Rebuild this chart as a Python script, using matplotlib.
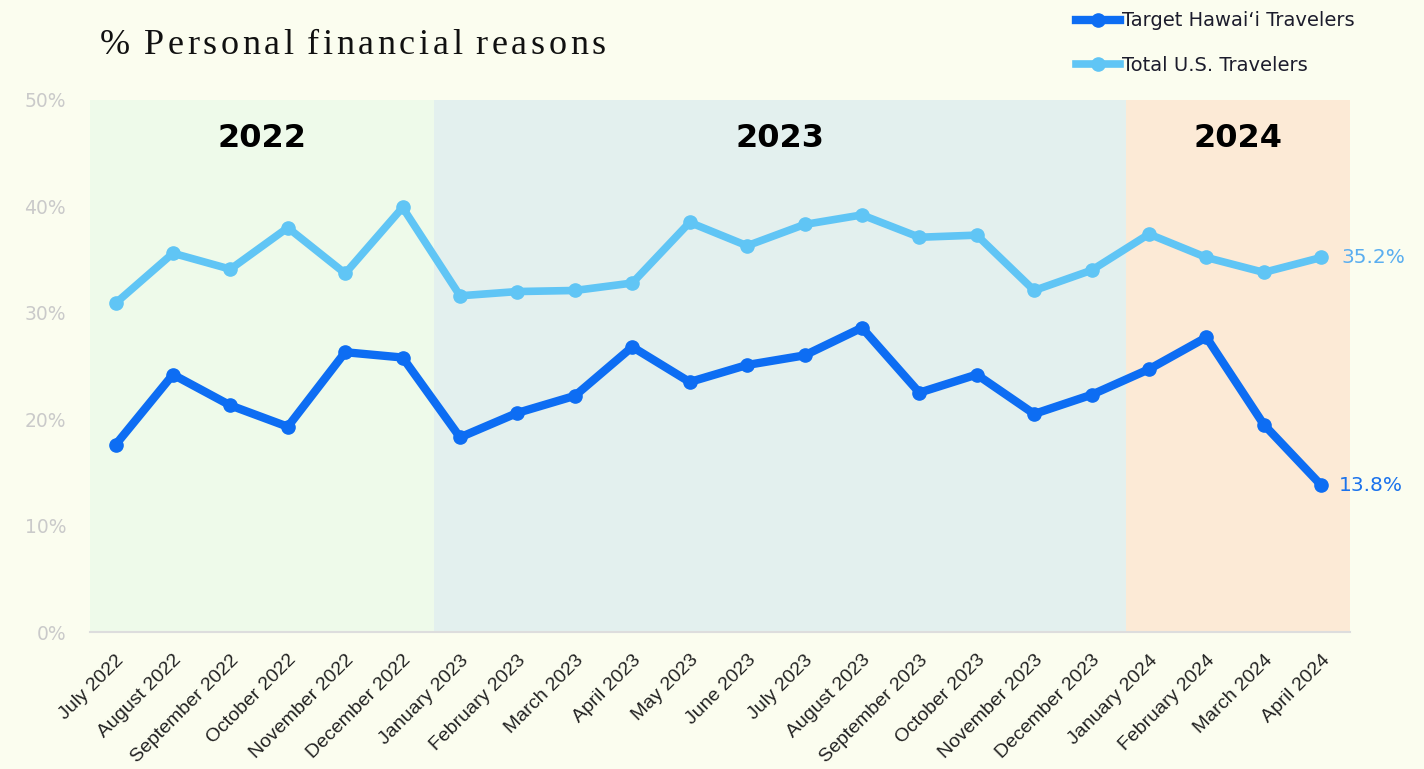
import numpy as np
import matplotlib.pyplot as plt

months = ["July 2022", "August 2022", "September 2022", "October 2022",
          "November 2022", "December 2022", "January 2023", "February 2023",
          "March 2023", "April 2023", "May 2023", "June 2023", "July 2023",
          "August 2023", "September 2023", "October 2023", "November 2023",
          "December 2023", "January 2024", "February 2024", "March 2024",
          "April 2024"]
hawaii = [17.6, 24.2, 21.3, 19.3, 26.3, 25.8, 18.3, 20.6, 22.2, 26.8, 23.5,
          25.1, 26.0, 28.6, 22.5, 24.2, 20.5, 22.3, 24.7, 27.7, 19.5, 13.8]
total_us = [30.9, 35.6, 34.1, 38.0, 33.7, 39.9, 31.6, 32.0, 32.1, 32.8, 38.5,
            36.3, 38.3, 39.2, 37.1, 37.3, 32.1, 34.0, 37.4, 35.2, 33.8, 35.2]
years = ["2022", "2023", "2024"]
year_spans = [(-0.45, 5.55), (5.55, 17.6), (17.6, 21.5)]

dark = "#0d6df3"
light = "#60c5f5"
bg = "#fbfdef"

fig = plt.figure(figsize=(14.24, 7.69), dpi=100, facecolor=bg)
ax = fig.add_axes([0.063, 0.178, 0.885, 0.692])
ax.set_facecolor(bg)

x = np.arange(len(months))

# shaded year bands
band_colors = ["#eefaea", "#e3f0ee", "#fcead6"]
for (a, b), c, yr in zip(year_spans, band_colors, years):
    ax.axvspan(a, b, color=c, zorder=0, lw=0)
    ax.text((a + b) / 2, 46.4, yr, ha="center", va="center", fontsize=23,
            fontweight="bold", color="black", family="DejaVu Sans")

ax.plot(x, total_us, color=light, lw=5.5, marker="o", ms=9.5,
        solid_joinstyle="round", label="Total U.S. Travelers", zorder=3)
ax.plot(x, hawaii, color=dark, lw=6, marker="o", ms=9.5,
        solid_joinstyle="round", label="Target Hawai\u2018i Travelers", zorder=4)

ax.text(x[-1] + 0.35, total_us[-1], f"{total_us[-1]}%", color="#5aaef0",
        fontsize=14.5, va="center", ha="left")
ax.text(x[-1] + 0.3, hawaii[-1], f"{hawaii[-1]}%", color="#1a72ec",
        fontsize=14.5, va="center", ha="left")

ax.set_xlim(-0.45, 21.5)
ax.set_ylim(0, 50)
ax.set_yticks(range(0, 51, 10))
ax.set_yticklabels([f"{v}%" for v in range(0, 51, 10)], color="#cacaca",
                   fontsize=13.5)
ax.set_xticks(x)
ax.set_xticklabels(months, rotation=45, ha="right", rotation_mode="anchor",
                   fontsize=14, color="#222222", family="Liberation Sans")
ax.tick_params(length=0)
ax.tick_params(axis="x", pad=14)
ax.tick_params(axis="y", pad=17)
for s in ["top", "right", "left"]:
    ax.spines[s].set_visible(False)
ax.spines["bottom"].set_color("#dddddd")
ax.spines["bottom"].set_linewidth(1.5)

# title with wide letter spacing
title = "% Personal financial reasons"
fig.canvas.draw()
r = fig.canvas.get_renderer()
tx = 100
for ch in title:
    t = fig.text(tx / 1424, 1 - 46 / 769, ch, fontsize=26, va="center",
                 ha="left", family="Liberation Serif", color="#111111")
    w = t.get_window_extent(renderer=r).width if ch != " " else 6.5
    tx += w + 3.6

handles, labels = ax.get_legend_handles_labels()
leg = fig.legend(handles[::-1], labels[::-1], loc="upper left",
                 bbox_to_anchor=(1058 / 1424, 1.008), frameon=False,
                 fontsize=14, handlelength=2.3, handletextpad=0.1,
                 labelspacing=1.3, labelcolor="#1c1c2c")

fig.savefig("out.png", dpi=100, facecolor=bg)
